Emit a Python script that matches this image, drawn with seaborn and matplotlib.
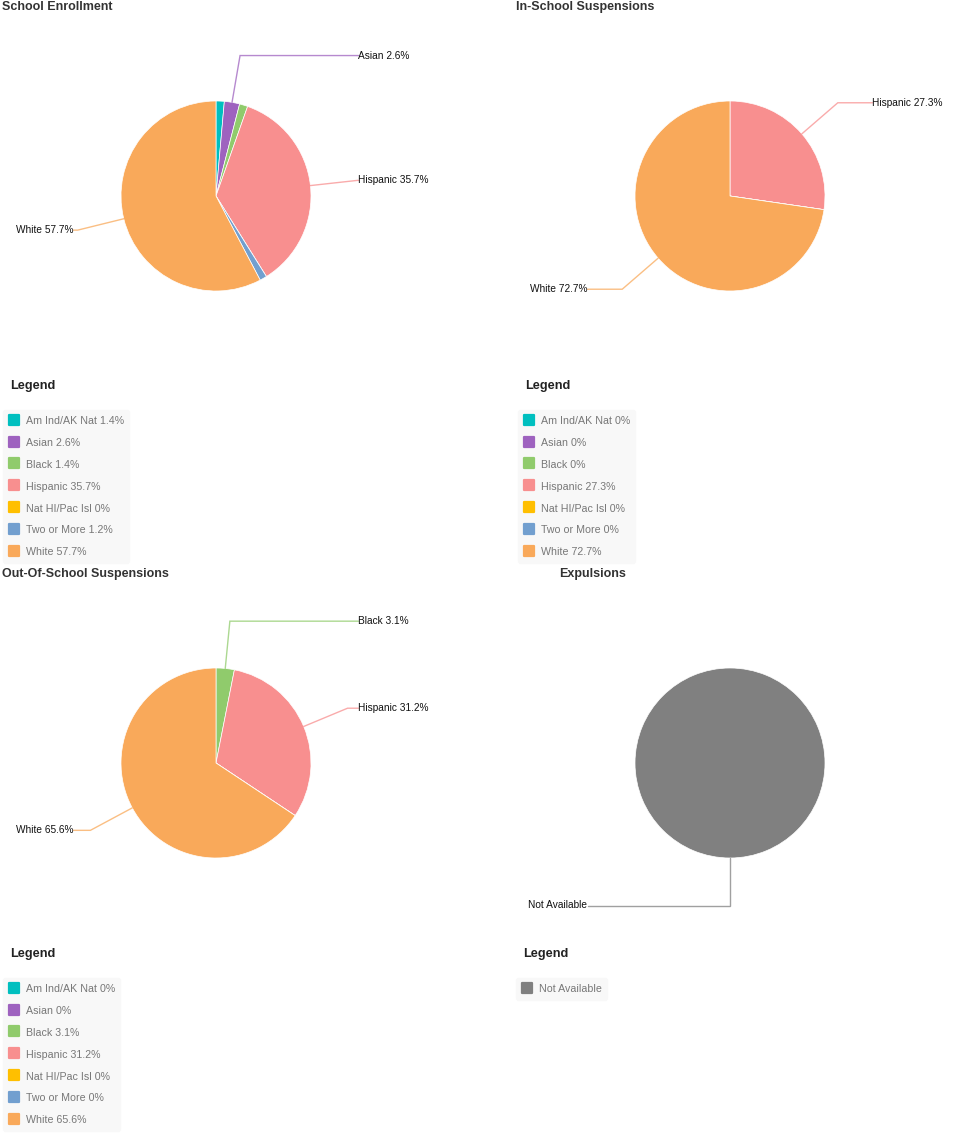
import numpy as np
import matplotlib
matplotlib.use("Agg")
import matplotlib.pyplot as plt
from matplotlib.lines import Line2D
from matplotlib.markers import MarkerStyle
import seaborn as sns

# ---------------- data ----------------
categories = ["Am Ind/AK Nat", "Asian", "Black", "Hispanic",
              "Nat HI/Pac Isl", "Two or More", "White"]
enrollment = [1.4, 2.6, 1.4, 35.7, 0, 1.2, 57.7]
in_school = [0, 0, 0, 27.3, 0, 0, 72.7]
out_school = [0, 0, 3.1, 31.2, 0, 0, 65.6]
expulsion_categories = ["Not Available"]
expulsions = [100]

palette = ["#00bfbf", "#9e62bf", "#90cb6c", "#f88f8f",
           "#ffbf00", "#729fcf", "#f9a95a"]
na_color = ["#808080"]

titles = ["School Enrollment", "In-School Suspensions",
          "Out-Of-School Suspensions", "Expulsions"]

# ---------------- style ----------------
sns.set_theme(style="white")
plt.rcParams["font.family"] = ["Liberation Sans", "DejaVu Sans"]

W, H = 956, 1137
fig = plt.figure(figsize=(W / 100, H / 100), dpi=100)
fig.patch.set_facecolor("white")


def fx(x):
    return x / W


def fy(y):
    return 1 - y / H


R = 95


def draw_pie(cx, cy, values, colors, names, show_pct=True, threshold=2.0):
    ax = fig.add_axes([fx(cx - R), fy(cy + R), 2 * R / W, 2 * R / H])
    wedges, _ = ax.pie(values, colors=colors, startangle=90, counterclock=False,
                       radius=1, normalize=True,
                       wedgeprops=dict(edgecolor="white", linewidth=0.5))
    ax.set_xlim(-1, 1)
    ax.set_ylim(-1, 1)
    ax.set_aspect("equal")
    ax.axis("off")
    for w, v, c, n in zip(wedges, values, colors, names):
        if v < threshold:
            continue
        mid = np.deg2rad((w.theta1 + w.theta2) / 2)
        x0, y0 = np.cos(mid), np.sin(mid)
        x1, y1 = 1.5 * x0, 1.5 * y0
        side = 1 if x0 >= 0 else -1
        x2 = side * 1.5
        ax.plot([x0, x1, x2], [y0, y1, y1], color=c, lw=1, alpha=0.75,
                clip_on=False, solid_joinstyle="miter")
        label = f"{n} {v:g}%" if show_pct else n
        ax.text(x2, y1, label, fontsize=7.3, color="#111111",
                ha="left" if side > 0 else "right", va="center")
    return ax


def draw_legend(x, y_head, y_box, names, values, colors, show_pct=True):
    fig.text(fx(x + 7), fy(y_head), "Legend", fontsize=9.2, fontweight="bold",
             color="#222222", ha="left", va="center")
    handles = [Line2D([], [], ls="none",
                      marker=MarkerStyle("s", joinstyle="round"),
                      markersize=7.0, markerfacecolor=c, markeredgecolor=c,
                      markeredgewidth=1.6)
               for c in colors]
    labels = [f"{n} {v:g}%" if show_pct else n for n, v in zip(names, values)]
    leg = fig.legend(handles, labels, loc="upper left",
                     bbox_to_anchor=(fx(x), fy(y_box)), borderaxespad=0,
                     fontsize=7.7, frameon=True, fancybox=True,
                     facecolor="#f8f8f8", edgecolor="#f8f8f8", framealpha=1,
                     handlelength=1.12, handleheight=1.12, handletextpad=0.52,
                     labelspacing=1.03, borderpad=0.5)
    for t in leg.get_texts():
        t.set_color("#777777")
    return leg


# titles
title_pos = [(2, 7), (516, 7), (2, 574), (559, 574)]
for (tx, ty), t in zip(title_pos, titles):
    fig.text(fx(tx), fy(ty), t, fontsize=9.0, fontweight="bold",
             color="#333333", ha="left", va="center")

# pies
draw_pie(216, 196, enrollment, palette, categories)
draw_pie(730, 196, in_school, palette, categories)
draw_pie(216, 763, out_school, palette, categories)
draw_pie(730, 763, expulsions, na_color, expulsion_categories, show_pct=False)

# legends
draw_legend(3, 386, 410, categories, enrollment, palette)
draw_legend(518, 386, 410, categories, in_school, palette)
draw_legend(3, 954, 978, categories, out_school, palette)
draw_legend(516, 954, 978, expulsion_categories, expulsions, na_color,
            show_pct=False)

fig.savefig("out.png", dpi=100, facecolor="white")
